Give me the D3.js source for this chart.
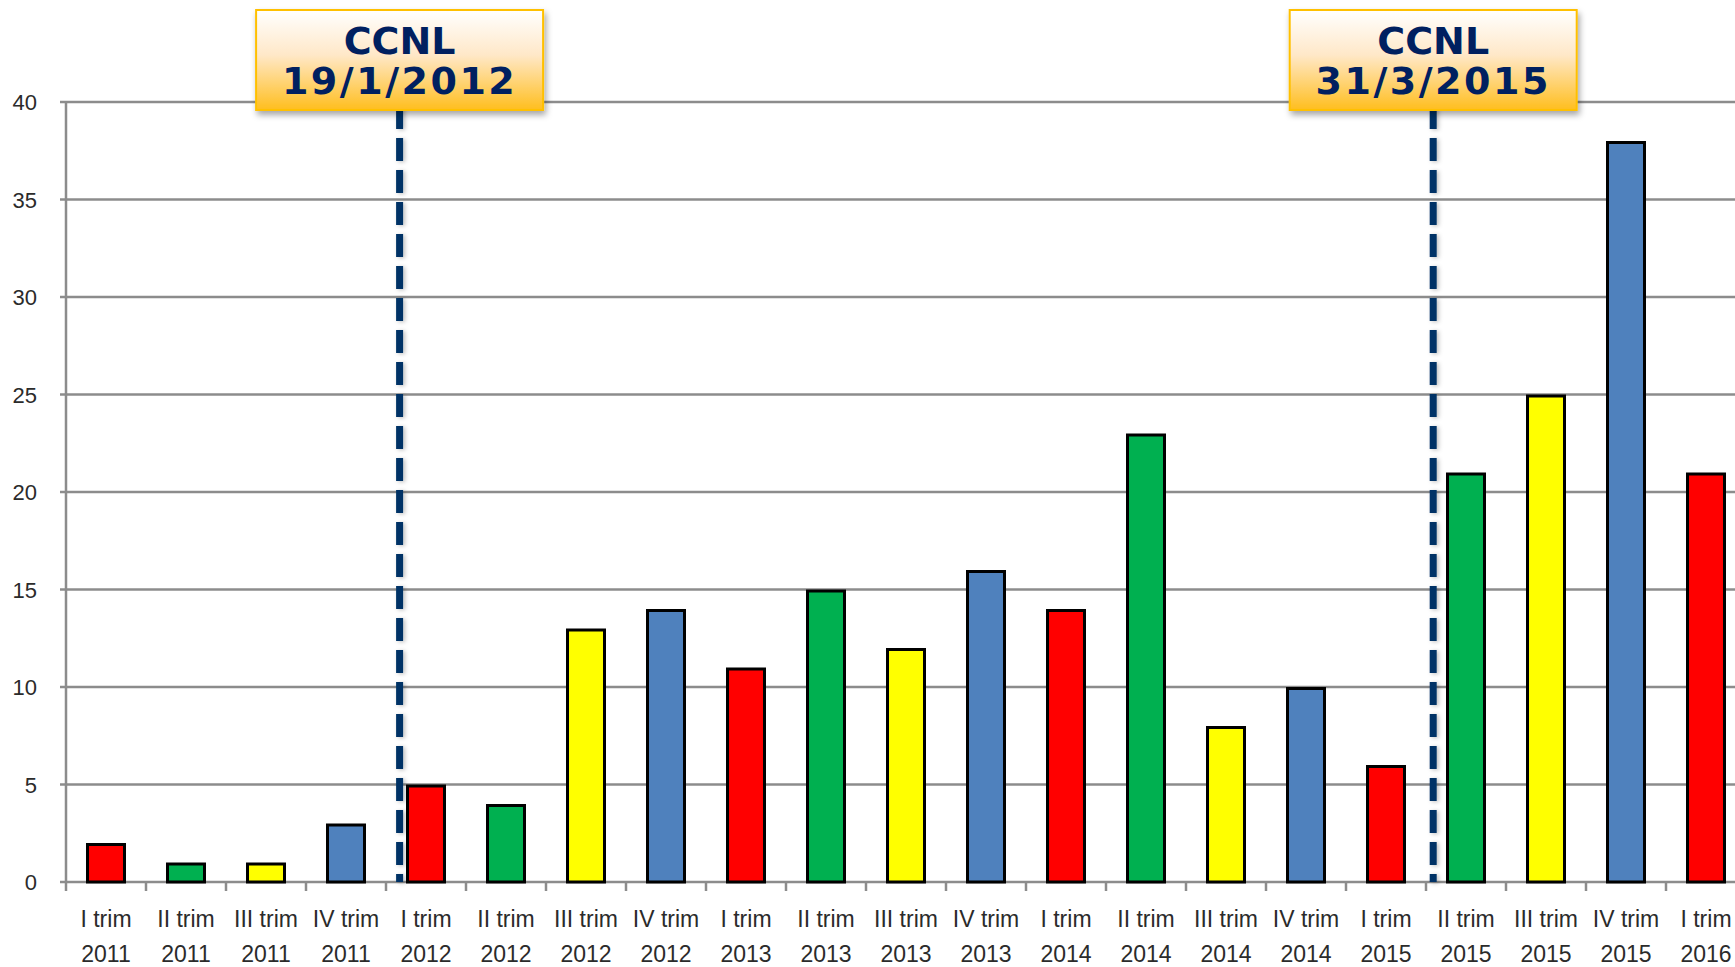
<!DOCTYPE html>
<html>
<head>
<meta charset="utf-8">
<script src="https://cdn.jsdelivr.net/npm/d3@7"></script>
<style>
  body { margin: 0; background: #fff; }
  svg { display: block; }
  .lbl { font-family: "Liberation Sans", Arial, sans-serif; font-size: 22px; fill: #2b2b2b; }
  .xlbl { font-size: 23px; }
  .box-text { font-family: "DejaVu Sans", Verdana, sans-serif; font-weight: bold; font-size: 38px; fill: #002060; }
</style>
</head>
<body>
<script>
// quarters / years on the x axis, count per quarter
var quarters = ["I trim","II trim","III trim","IV trim","I trim","II trim","III trim","IV trim",
  "I trim","II trim","III trim","IV trim","I trim","II trim","III trim","IV trim",
  "I trim","II trim","III trim","IV trim","I trim"];
var years = ["2011","2011","2011","2011","2012","2012","2012","2012",
  "2013","2013","2013","2013","2014","2014","2014","2014",
  "2015","2015","2015","2015","2016"];
var values = [2,1,1,3,5,4,13,14,11,15,12,16,14,23,8,10,6,21,25,38,21];
var yTicks = [0,5,10,15,20,25,30,35,40];
var quarterColors = {"I trim":"#FF0000","II trim":"#00B050","III trim":"#FFFF00","IV trim":"#4F81BD"};

// contract dates (CCNL) and where they sit on the axis
var ccnlDates = ["19/1/2012","31/3/2015"];
var ccnlCats = ["I trim 2012","II trim 2015"];
var ccnlShift = [-0.33,-0.41];

var categories = quarters.map(function(q,i){ return q+" "+years[i]; });

var width = 1735, height = 967;
var x0 = 66, step = 80;

var svg = d3.select("body").append("svg")
  .attr("width", width).attr("height", height);

var defs = svg.append("defs");
var grad = defs.append("linearGradient").attr("id","boxgrad")
  .attr("x1","0").attr("y1","0").attr("x2","0").attr("y2","1");
grad.append("stop").attr("offset","0%").attr("stop-color","#FFFFFF");
grad.append("stop").attr("offset","45%").attr("stop-color","#FFE8C8");
grad.append("stop").attr("offset","100%").attr("stop-color","#FFBE1E");

var shadow = defs.append("filter").attr("id","shadow")
  .attr("x","-10%").attr("y","-10%").attr("width","130%").attr("height","140%");
shadow.append("feDropShadow").attr("dx",2).attr("dy",4).attr("stdDeviation",3)
  .attr("flood-color","#000").attr("flood-opacity",0.35);
// user space units, the dashed lines have zero-width bbox
var lshadow = defs.append("filter").attr("id","lshadow")
  .attr("filterUnits","userSpaceOnUse")
  .attr("x",0).attr("y",0).attr("width",width).attr("height",height);
lshadow.append("feDropShadow").attr("dx",2).attr("dy",1).attr("stdDeviation",2)
  .attr("flood-color","#000").attr("flood-opacity",0.25);

var x = d3.scaleBand()
  .domain(categories)
  .range([x0, x0 + step*categories.length])
  .paddingInner(0.5).paddingOuter(0.25);

var y = d3.scaleLinear().domain([0,40]).range([882,102]);

// gridlines
svg.append("g").selectAll("line").data(yTicks).enter().append("line")
  .attr("x1", x0-6).attr("x2", width)
  .attr("y1", function(d){ return y(d); }).attr("y2", function(d){ return y(d); })
  .attr("stroke", "#8c8c8c").attr("stroke-width", 2.5);

// y axis line
svg.append("line").attr("x1",x0).attr("x2",x0).attr("y1",y(40)).attr("y2",y(0))
  .attr("stroke","#8c8c8c").attr("stroke-width",2.5);

// y labels
svg.append("g").selectAll("text").data(yTicks).enter().append("text")
  .attr("class","lbl")
  .attr("x", 37).attr("y", function(d){ return y(d)+8; })
  .attr("text-anchor","end")
  .text(function(d){ return d; });

// x ticks
var bounds = d3.range(categories.length+1).map(function(i){ return x0 + i*x.step(); });
svg.append("g").selectAll("line").data(bounds).enter().append("line")
  .attr("x1", function(d){ return d; }).attr("x2", function(d){ return d; })
  .attr("y1", y(0)).attr("y2", y(0)+9)
  .attr("stroke","#8c8c8c").attr("stroke-width",2.5);

// dashed CCNL lines
var lineX = ccnlCats.map(function(c,i){ return x(c) + x.bandwidth()/2 + ccnlShift[i]*x.step(); });
svg.append("g").selectAll("line").data(lineX).enter().append("line")
  .attr("x1", function(d){ return d; }).attr("x2", function(d){ return d; })
  .attr("y1", y(40)+4).attr("y2", y(0))
  .attr("stroke","#003366").attr("stroke-width",7)
  .attr("stroke-dasharray","23,9")
  .attr("filter","url(#lshadow)");

// bars
svg.append("g").selectAll("rect").data(values).enter().append("rect")
  .attr("x", function(d,i){ return x(categories[i]) + 1.5; })
  .attr("width", x.bandwidth() - 3)
  .attr("y", function(d){ return y(d) + 1.5; })
  .attr("height", function(d){ return y(0) - y(d) - 1.5; })
  .attr("fill", function(d,i){ return quarterColors[quarters[i]]; })
  .attr("stroke","#000").attr("stroke-width",3);

// x labels
var xl = svg.append("g").selectAll("text").data(categories).enter().append("text")
  .attr("class","lbl xlbl")
  .attr("text-anchor","middle")
  .attr("x", function(d){ return x(d) + x.bandwidth()/2; });
xl.append("tspan").attr("x", function(d){ return x(d) + x.bandwidth()/2; })
  .attr("y", 927).text(function(d,i){ return quarters[i]; });
xl.append("tspan").attr("x", function(d){ return x(d) + x.bandwidth()/2; })
  .attr("y", 962).text(function(d,i){ return years[i]; });

// CCNL boxes
var boxW = 287, boxH = 100;
var boxes = svg.append("g").selectAll("g").data(ccnlDates).enter().append("g")
  .attr("transform", function(d,i){ return "translate(" + (lineX[i]) + ",10)"; });
boxes.append("rect")
  .attr("x", -boxW/2).attr("y", 0).attr("width", boxW).attr("height", boxH)
  .attr("fill","url(#boxgrad)").attr("stroke","#FFC000").attr("stroke-width",2)
  .attr("filter","url(#shadow)");
boxes.append("text").attr("class","box-text").attr("text-anchor","middle")
  .attr("x",0).attr("y",44).text("CCNL");
boxes.append("text").attr("class","box-text").attr("text-anchor","middle")
  .attr("x",0).attr("y",84).style("letter-spacing","2.5px")
  .text(function(d){ return d; });
</script>
</body>
</html>
